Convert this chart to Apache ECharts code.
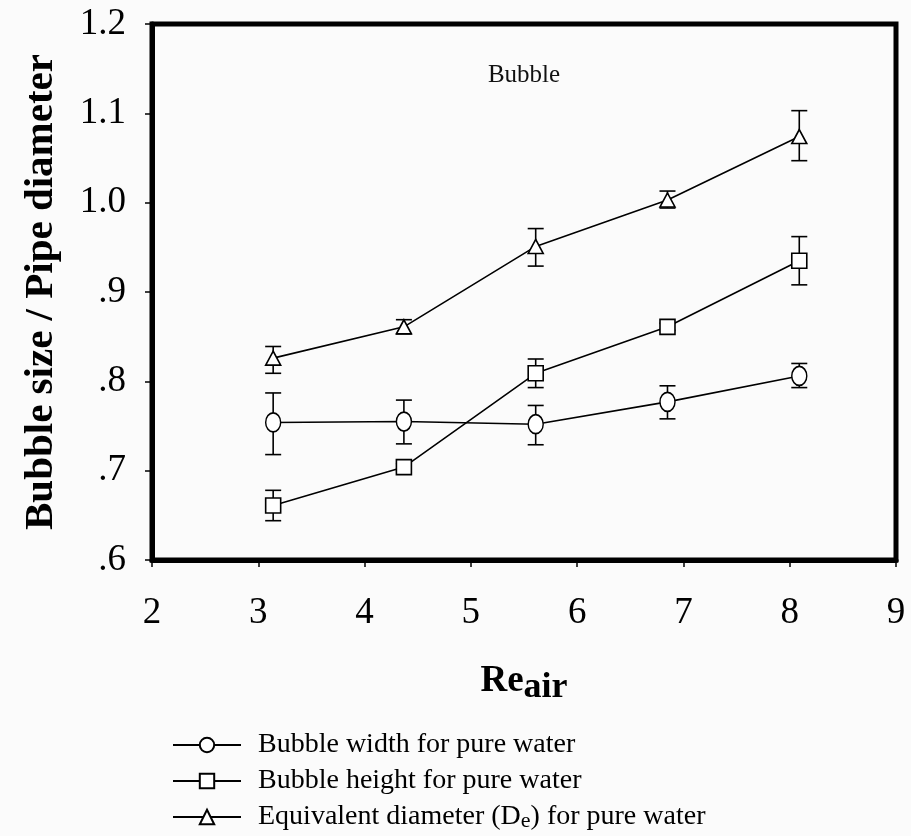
<!DOCTYPE html>
<html>
<head>
<meta charset="utf-8">
<script src="https://cdn.jsdelivr.net/npm/echarts@6/dist/echarts.min.js"></script>
<style>html,body{margin:0;padding:0;background:#fbfbfb;}#chart{width:911px;height:836px;}</style>
</head>
<body>
<div id="chart"></div>
<script>
// ---- data ----
const reAir = [3.14, 4.37, 5.61, 6.85, 8.09];
const xTicks = [2, 3, 4, 5, 6, 7, 8, 9];
const yTicks = ['.6', '.7', '.8', '.9', '1.0', '1.1', '1.2'];

const widthMean = [0.754, 0.755, 0.752, 0.777, 0.806];
const widthLow  = [0.718, 0.730, 0.729, 0.758, 0.793];
const widthHigh = [0.787, 0.779, 0.773, 0.795, 0.820];

const heightMean = [0.661, 0.704, 0.809, 0.861, 0.935];
const heightLow  = [0.644, 0.700, 0.793, 0.857, 0.908];
const heightHigh = [0.678, 0.708, 0.825, 0.865, 0.962];

const deMean = [0.826, 0.861, 0.951, 1.003, 1.074];
const deLow  = [0.809, 0.853, 0.929, 0.994, 1.047];
const deHigh = [0.839, 0.869, 0.971, 1.013, 1.103];

const names = ['Bubble width for pure water', 'Bubble height for pure water', 'Equivalent diameter (De) for pure water'];

// ---- build ----
const serif = 'Liberation Serif';
const pairs = (xs, ys) => xs.map((x, i) => [x, ys[i]]);
const errData = (xs, lo, hi) => xs.map((x, i) => [x, lo[i], hi[i]]);

function errorBars(params, api) {
  const x = api.value(0), lo = api.value(1), hi = api.value(2);
  const top = api.coord([x, hi]);
  const bot = api.coord([x, lo]);
  const w = 8;
  const st = { stroke: '#000', lineWidth: 1.6 };
  return {
    type: 'group',
    children: [
      { type: 'line', shape: { x1: top[0], y1: top[1], x2: bot[0], y2: bot[1] }, style: st },
      { type: 'line', shape: { x1: top[0] - w, y1: top[1], x2: top[0] + w, y2: top[1] }, style: st },
      { type: 'line', shape: { x1: bot[0] - w, y1: bot[1], x2: bot[0] + w, y2: bot[1] }, style: st }
    ]
  };
}

function lineSeries(name, data, symbol, size) {
  return {
    name, type: 'line', data, symbol, symbolSize: size, z: 5,
    showAllSymbol: true,
    lineStyle: { color: '#000', width: 1.6 },
    itemStyle: { color: '#fff', borderColor: '#000', borderWidth: 1.6 },
    emphasis: { disabled: true },
    animation: false
  };
}
function errSeries(data) {
  return { type: 'custom', data, renderItem: errorBars, z: 3, silent: true, animation: false };
}

const chart = echarts.init(document.getElementById('chart'), null, { renderer: 'canvas' });
chart.setOption({
  backgroundColor: '#fbfbfb',
  animation: false,
  title: {
    text: 'Bubble', left: 519, top: 58, textAlign: 'center',
    textStyle: { fontFamily: serif, fontWeight: 'normal', fontSize: 25, color: '#111' }
  },
  grid: {
    left: 152, right: 15, top: 24, bottom: 276,
    show: true, borderColor: '#000', borderWidth: 5, backgroundColor: 'transparent'
  },
  xAxis: {
    type: 'value', min: 2, max: 9, interval: 1,
    name: '{re|Re}{sub|air}', nameLocation: 'middle', nameGap: 96,
    nameTextStyle: {
      rich: {
        re: { fontFamily: serif, fontWeight: 'bold', fontSize: 37, color: '#000', lineHeight: 50 },
        sub: { fontFamily: serif, fontWeight: 'bold', fontSize: 36, color: '#000', verticalAlign: 'bottom', lineHeight: 36 }
      }
    },
    axisLine: { show: true, onZero: false, lineStyle: { color: '#000', width: 5 } },
    axisTick: { show: true, length: 7, lineStyle: { color: '#000', width: 1.5 } },
    axisLabel: {
      margin: 35, fontFamily: serif, fontSize: 37, color: '#000',
      formatter: v => String(xTicks[xTicks.indexOf(Math.round(v))])
    },
    splitLine: { show: false }
  },
  yAxis: {
    type: 'value', min: 0.6, max: 1.2, interval: 0.1,
    name: 'Bubble size / Pipe diameter', nameLocation: 'middle', nameGap: 90,
    nameTextStyle: { fontFamily: serif, fontWeight: 'bold', fontSize: 41, color: '#000' },
    axisLine: { show: true, onZero: false, lineStyle: { color: '#000', width: 5 } },
    axisTick: { show: true, length: 7, lineStyle: { color: '#000', width: 1.5 } },
    axisLabel: {
      margin: 26, fontFamily: serif, fontSize: 37, color: '#000',
      formatter: v => yTicks[Math.round((v - 0.6) * 10)]
    },
    splitLine: { show: false }
  },
  legend: {
    data: names, orient: 'vertical', left: 172, top: 730, bottom: 0, padding: 0,
    itemWidth: 68, itemHeight: 18, itemGap: 6,
    selectedMode: false,
    formatter: n => n === names[2] ? 'Equivalent diameter (D{sub|e}) for pure water' : n,
    textStyle: {
      fontFamily: serif, fontSize: 28, color: '#000', lineHeight: 30, padding: [0, 0, 0, 12],
      rich: { sub: { fontFamily: serif, fontSize: 22, color: '#000', verticalAlign: 'bottom', lineHeight: 22 } }
    }
  },
  series: [
    errSeries(errData(reAir, widthLow, widthHigh)),
    errSeries(errData(reAir, heightLow, heightHigh)),
    errSeries(errData(reAir, deLow, deHigh)),
    lineSeries(names[0], pairs(reAir, widthMean), 'circle', [15, 19]),
    lineSeries(names[1], pairs(reAir, heightMean), 'rect', [15, 15]),
    lineSeries(names[2], pairs(reAir, deMean), 'triangle', [15, 14])
  ]
});
</script>
</body>
</html>
